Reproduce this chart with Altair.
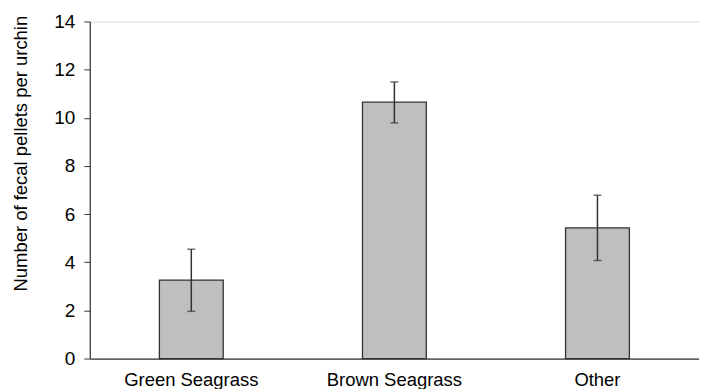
import altair as alt
import pandas as pd

categories = ["Green Seagrass", "Brown Seagrass", "Other"]
means = [3.26, 10.65, 5.43]
err_low = [1.96, 9.79, 4.07]
err_high = [4.54, 11.49, 6.78]

df = pd.DataFrame({"cat": categories, "mean": means, "lo": err_low, "hi": err_high})

FONT = "Liberation Sans"

x = alt.X("cat:N", sort=categories, title=None,
          scale=alt.Scale(paddingInner=0, paddingOuter=0),
          axis=alt.Axis(labelAngle=0, ticks=False, labelFontSize=18.5, labelFont=FONT,
                        labelColor="#000", labelPadding=12, domainColor="#333",
                        domainWidth=1.2))

bars = alt.Chart(df).mark_bar(size=64, color="#bfbfbf", stroke="#333", strokeWidth=1.3).encode(
    x=x,
    y=alt.Y("mean:Q", title="Number of fecal pellets per urchin",
            scale=alt.Scale(domain=[0, 14], nice=False),
            axis=alt.Axis(values=[0, 2, 4, 6, 8, 10, 12, 14], grid=False, tickSize=6,
                          tickColor="#333", domainColor="#333", domainWidth=1.2,
                          labelFontSize=19, labelFont=FONT, labelColor="#000",
                          labelPadding=9, titleFont=FONT, titleFontSize=18.5,
                          titleFontWeight="normal", titleColor="#000", titlePadding=23,
                          titleY=132)),
)

rules = alt.Chart(df).mark_rule(color="#333", strokeWidth=1.5).encode(
    x=alt.X("cat:N", sort=categories), y="lo:Q", y2="hi:Q")
cap_lo = alt.Chart(df).mark_tick(color="#333", size=8, thickness=1.5).encode(
    x=alt.X("cat:N", sort=categories), y="lo:Q")
cap_hi = alt.Chart(df).mark_tick(color="#333", size=8, thickness=1.5).encode(
    x=alt.X("cat:N", sort=categories), y="hi:Q")

chart = alt.layer(bars, rules, cap_lo, cap_hi).properties(
    width=611, height=338,
    autosize=alt.AutoSizeParams(type="none"),
    padding={"left": 82, "top": 13, "right": 0, "bottom": 40},
).configure_view(stroke=None).configure(background="white")

chart.save("out.html", embed_options={"renderer": "svg", "actions": False})
